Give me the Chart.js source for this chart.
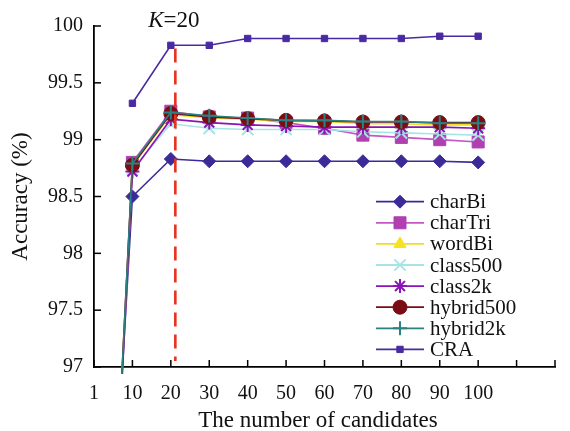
<!DOCTYPE html>
<html>
<head>
<meta charset="utf-8">
<script src="https://cdn.jsdelivr.net/npm/chart.js@4"></script>
<style>
html,body{margin:0;padding:0;background:#fff;}
#wrap{width:570px;height:431px;}
</style>
</head>
<body>
<div id="wrap"><canvas id="c" width="570" height="431"></canvas></div>
<script>
// ---- data ----
const categories = ['1','10','20','30','40','50','60','70','80','90','100','',''];
const seriesNames = ['charBi','charTri','wordBi','class500','class2k','hybrid500','hybrid2k','CRA'];
const charBi    = [92.7, 98.50, 98.83, 98.81, 98.81, 98.81, 98.81, 98.81, 98.81, 98.81, 98.80];
const charTri   = [92.0, 98.80, 99.25, 99.20, 99.19, 99.15, 99.10, 99.04, 99.02, 99.00, 98.98];
const wordBi    = [92.1, 98.77, 99.22, 99.19, 99.18, 99.16, 99.16, 99.14, 99.14, 99.13, 99.13];
const class500  = [91.9, 98.74, 99.14, 99.10, 99.09, 99.09, 99.09, 99.07, 99.06, 99.05, 99.04];
const class2k   = [91.9, 98.72, 99.18, 99.15, 99.13, 99.12, 99.11, 99.11, 99.11, 99.11, 99.10];
const hybrid500 = [92.0, 98.775, 99.23, 99.20, 99.185, 99.17, 99.165, 99.155, 99.155, 99.15, 99.15];
const hybrid2k  = [92.0, 98.79, 99.24, 99.21, 99.19, 99.17, 99.17, 99.16, 99.16, 99.145, 99.145];
const CRA       = [null, 99.32, 99.83, 99.83, 99.89, 99.89, 99.89, 99.89, 99.89, 99.91, 99.91];
const yMin = 97, yMax = 100, yStep = 0.5;
const chosenK = '20';
const kLineTop = 99.82;

// ---- styles ----
const styles = [
  {line:'#3b2b98', fill:'#3b2b98', ps:'rectRot', r:6.5, bw:1},
  {line:'#c458c4', fill:'#b040b0', ps:'rect', r:8.5, bw:1},
  {line:'#f3dc2a', fill:'#f7e21e', ps:'triangle', r:7, bw:1},
  {line:'#a6e4e6', fill:'#a6e4e6', ps:'crossRot', r:8, bw:2},
  {line:'#8c14b4', fill:'#8c14b4', ps:'star', r:7, bw:2},
  {line:'#7a0c14', fill:'#7a0c14', ps:'circle', r:7, bw:1},
  {line:'#2a8282', fill:'#2a8282', ps:'cross', r:7, bw:2},
  {line:'#4a2aa2', fill:'#4a2aa2', ps:'rect', r:4.5, bw:1}
];
const allData = [charBi, charTri, wordBi, class500, class2k, hybrid500, hybrid2k, CRA];
const SERIF = '"Liberation Serif", "DejaVu Serif", serif';

const datasets = allData.map((d, i) => ({
  label: seriesNames[i],
  data: d,
  borderColor: styles[i].line,
  backgroundColor: styles[i].fill,
  pointBackgroundColor: styles[i].fill,
  pointBorderColor: styles[i].fill,
  pointStyle: styles[i].ps,
  pointRadius: styles[i].r,
  pointHoverRadius: styles[i].r,
  pointBorderWidth: styles[i].bw,
  borderWidth: 1.6,
  tension: 0,
  spanGaps: false,
  order: allData.length - i,
  clip: {left: 0, top: 10, right: 10, bottom: 7}
}));

const decor = {
  id: 'decor',
  afterDatasetsDraw(chart) {
    const ctx = chart.ctx, xs = chart.scales.x, ys = chart.scales.y;
    const xi = categories.indexOf(chosenK);
    const x = xs.getPixelForValue(xi) + 4.5;
    ctx.save();
    ctx.strokeStyle = '#e8321e';
    ctx.lineWidth = 2.6;
    ctx.setLineDash([14, 8]);
    ctx.beginPath();
    ctx.moveTo(x, ys.getPixelForValue(kLineTop) + 2);
    ctx.lineTo(x, ys.bottom - 6);
    ctx.stroke();
    ctx.restore();
  },
  afterDraw(chart) {
    const ctx = chart.ctx, xs = chart.scales.x, ys = chart.scales.y;
    ctx.save();
    ctx.strokeStyle = '#000';
    ctx.lineWidth = 1.5;
    ys.ticks.forEach((t, i) => {
      const y = ys.getPixelForTick(i);
      ctx.beginPath(); ctx.moveTo(xs.left, y); ctx.lineTo(xs.left + 7, y); ctx.stroke();
    });
    xs.ticks.forEach((t, i) => {
      const x = xs.getPixelForTick(i);
      ctx.beginPath(); ctx.moveTo(x, ys.bottom); ctx.lineTo(x, ys.bottom - 7); ctx.stroke();
    });
    const xi = categories.indexOf(chosenK);
    const kx = xs.getPixelForValue(xi) + 3;
    ctx.fillStyle = '#111';
    ctx.textBaseline = 'alphabetic';
    ctx.font = 'italic 23px ' + SERIF;
    const w1 = ctx.measureText('K').width;
    ctx.font = '23px ' + SERIF;
    const w2 = ctx.measureText('=' + chosenK).width;
    const sx = kx - (w1 + w2) / 2;
    ctx.font = 'italic 23px ' + SERIF;
    ctx.fillText('K', sx, 27);
    ctx.font = '23px ' + SERIF;
    ctx.fillText('=' + chosenK, sx + w1, 27);
    ctx.font = '23px ' + SERIF;
    ctx.textAlign = 'center';
    ctx.fillText('The number of candidates', 318, 427);
    ctx.textAlign = 'left';
    ctx.textBaseline = 'middle';
    ctx.font = '21px ' + SERIF;
    chart.data.datasets.forEach((ds, i) => {
      const y = 201.7 + i * 21.1;
      ctx.strokeStyle = ds.borderColor;
      ctx.lineWidth = 1.8;
      ctx.setLineDash([]);
      ctx.beginPath(); ctx.moveTo(376, y); ctx.lineTo(424, y); ctx.stroke();
      ctx.fillStyle = ds.pointBackgroundColor;
      ctx.strokeStyle = ds.pointBorderColor;
      ctx.lineWidth = ds.pointBorderWidth;
      Chart.helpers.drawPoint(ctx, {pointStyle: ds.pointStyle, radius: ds.pointRadius, rotation: 0, borderWidth: ds.pointBorderWidth}, 400, y);
      ctx.fillStyle = '#111';
      ctx.fillText(ds.label, 430, y + 1);
    });
    ctx.restore();
  }
};

new Chart(document.getElementById('c'), {
  type: 'line',
  data: {labels: categories, datasets},
  plugins: [decor],
  options: {
    responsive: false,
    devicePixelRatio: 1,
    animation: false,
    layout: {padding: {top: 26, right: 0, left: 0, bottom: 0}},
    plugins: {legend: {display: false}, tooltip: {enabled: false}},
    scales: {
      x: {
        type: 'category',
        offset: false,
        grid: {display: true, drawOnChartArea: false, drawTicks: false},
        border: {display: true, color: '#000', width: 1.8},
        ticks: {color: '#111', font: {family: SERIF, size: 20}, padding: 15, autoSkip: false, maxRotation: 0},
        afterFit(s) { s.height = 64; }
      },
      y: {
        min: yMin, max: yMax,
        grid: {display: true, drawOnChartArea: false, drawTicks: false},
        border: {display: true, color: '#000', width: 1.8},
        ticks: {stepSize: yStep, color: '#111', font: {family: SERIF, size: 20}, padding: 11,
                callback: v => String(v)},
        title: {display: true, text: 'Accuracy (%)', color: '#111', font: {family: SERIF, size: 23}, padding: {top: 7, bottom: 0}},
        afterFit(s) { s.width = 94; }
      }
    }
  }
});
</script>
</body>
</html>
